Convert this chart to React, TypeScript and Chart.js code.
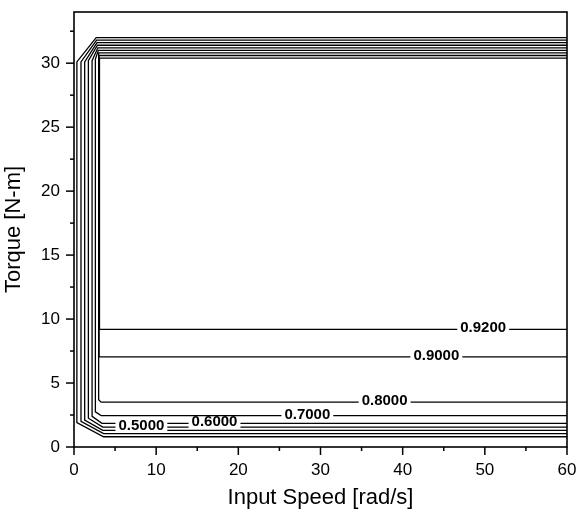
import React, { useEffect, useRef } from "react";
import { Chart, registerables } from "chart.js";

Chart.register(...registerables);

// Contour levels (innermost first)
const levels = ["0.9200", "0.9000", "0.8000", "0.7000", "0.6000", "0.5000", "0.4000", "0.3000", "0.2000"];
// Torque of the low horizontal branch of each contour
const bottomY = [9.2, 7.05, 3.5, 2.45, 1.85, 1.55, 1.3, 1.05, 0.8];
// Torque of the high horizontal branch of each contour
const topY = [30.4, 30.6, 30.8, 31.0, 31.2, 31.4, 31.6, 31.8, 32.0];
// Speed of the vertical branch of each contour
const verticalX = [3.1, 3.05, 3.0, 2.6, 2.2, 1.75, 1.3, 0.85, 0.35];
// Torque where the vertical branch meets the lower bend
const bendY = [9.2, 7.05, 3.7, 2.75, 2.4, 2.25, 2.1, 2.0, 1.9];
// Speed where the lower bend reaches the low horizontal branch
const bottomCornerX = [3.1, 3.05, 3.3, 3.3, 3.4, 3.5, 3.5, 3.6, 3.6];
// Torque where the vertical branch meets the upper bend
const topBendY = [30.4, 30.4, 30.3, 30.3, 30.2, 30.2, 30.1, 30.1, 30.1];
// Speed where the upper bend reaches the high horizontal branch
const topCornerX = [3.1, 3.05, 3.0, 2.95, 2.9, 2.85, 2.8, 2.75, 2.7];

// Inline contour labels
const labelTexts = ["0.9200", "0.9000", "0.8000", "0.7000", "0.6000", "0.5000"];
const labelX = [49.8, 44.1, 37.8, 28.4, 17.1, 8.2];

const xTicksMajor = [0, 10, 20, 30, 40, 50, 60];
const X_MIN = 0, X_MAX = 60, Y_MIN = 0, Y_MAX = 34;

const FONT = "'Liberation Sans', Arial, Helvetica, sans-serif";

const framePlugin = {
  id: "frameTicks",
  afterDraw(chart: any) {
    const { ctx, chartArea, scales } = chart;
    const xs = scales.x, ys = scales.y;
    ctx.save();
    // contour labels
    ctx.font = `bold 15px ${FONT}`;
    ctx.textAlign = "center";
    ctx.textBaseline = "middle";
    labelTexts.forEach((t, i) => {
      const idx = levels.indexOf(t);
      const px = xs.getPixelForValue(labelX[i]);
      const py = ys.getPixelForValue(bottomY[idx]);
      const w = ctx.measureText(t).width;
      ctx.fillStyle = "#fff";
      ctx.fillRect(px - w / 2 - 3, py - 5, w + 6, 10);
      ctx.fillStyle = "#000";
      ctx.fillText(t, px, py - 1);
    });
    // frame
    ctx.strokeStyle = "#000";
    ctx.lineWidth = 1.6;
    ctx.strokeRect(chartArea.left, chartArea.top, chartArea.right - chartArea.left, chartArea.bottom - chartArea.top);
    // ticks
    ctx.lineWidth = 1.5;
    for (let v = X_MIN; v <= X_MAX; v += 5) {
      const px = xs.getPixelForValue(v);
      const len = v % 10 === 0 ? 8 : 4;
      ctx.beginPath();
      ctx.moveTo(px, chartArea.bottom);
      ctx.lineTo(px, chartArea.bottom + len);
      ctx.stroke();
    }
    for (let v = Y_MIN; v <= Y_MAX; v += 2.5) {
      const py = ys.getPixelForValue(v);
      const len = v % 5 === 0 ? 8 : 4;
      ctx.beginPath();
      ctx.moveTo(chartArea.left, py);
      ctx.lineTo(chartArea.left - len, py);
      ctx.stroke();
    }
    ctx.restore();
  },
};

export default function App() {
  const ref = useRef<HTMLCanvasElement>(null);
  useEffect(() => {
    if (!ref.current) return;
    const datasets = levels.map((lv, i) => ({
      label: lv,
      data: [
        { x: X_MAX, y: bottomY[i] },
        { x: bottomCornerX[i], y: bottomY[i] },
        { x: verticalX[i], y: bendY[i] },
        { x: verticalX[i], y: topBendY[i] },
        { x: topCornerX[i], y: topY[i] },
        { x: X_MAX, y: topY[i] },
      ],
      showLine: true,
      borderColor: "#000",
      borderWidth: 1.3,
      pointRadius: 0,
      tension: 0,
      fill: false,
    }));
    const chart = new Chart(ref.current, {
      type: "scatter",
      data: { datasets },
      options: {
        animation: false,
        responsive: false,
        layout: { padding: { left: 0, right: 10, top: 12, bottom: 0 } },
        plugins: { legend: { display: false }, tooltip: { enabled: false } },
        scales: {
          x: {
            type: "linear",
            min: X_MIN,
            max: X_MAX,
            grid: { display: false, drawTicks: true, tickLength: 8 },
            border: { display: false },
            afterFit: (s: any) => { s.height = 68; s.paddingLeft = 0; s.paddingRight = 0; },
            afterBuildTicks: (s: any) => { s.ticks = xTicksMajor.map((v) => ({ value: v })); },
            ticks: { color: "#000", font: { family: FONT, size: 17 }, padding: 5, maxRotation: 0 },
            title: { display: true, text: "Input Speed [rad/s]", color: "#000", font: { family: FONT, size: 22 }, padding: { top: 0, bottom: 4 } },
          },
          y: {
            type: "linear",
            min: Y_MIN,
            max: Y_MAX,
            grid: { display: false, drawTicks: true, tickLength: 8 },
            border: { display: false },
            afterFit: (s: any) => { s.width = 74; s.paddingTop = 0; s.paddingBottom = 0; },
            ticks: { stepSize: 5, includeBounds: false, color: "#000", font: { family: FONT, size: 17 }, padding: 6 },
            title: { display: true, text: "Torque [N-m]", color: "#000", font: { family: FONT, size: 22 }, padding: { top: 1, bottom: 0 } },
          },
        },
      },
      plugins: [framePlugin],
    });
    return () => chart.destroy();
  }, []);
  return (
    <div style={{ position: "fixed", left: 0, top: 0, width: 577, height: 515, background: "#fff" }}>
      <canvas ref={ref} width={577} height={515} style={{ display: "block" }} />
    </div>
  );
}
